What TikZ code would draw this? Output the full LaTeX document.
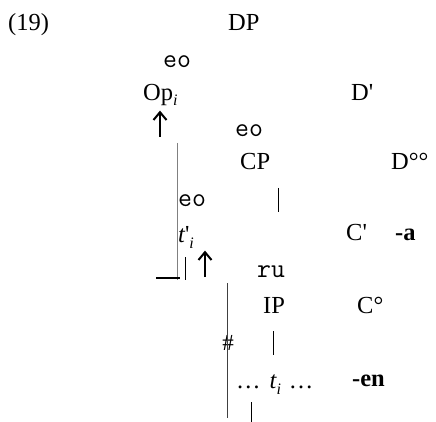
\documentclass[tikz,border=0pt]{standalone}
\usepackage{fontspec}
\usetikzlibrary{calc}
\setmainfont{Liberation Serif}
\newfontfamily\nolig{Liberation Serif}[Ligatures=TeXOff]
\newcommand{\sq}{{\nolig\char"0027\relax}}
\begin{document}
\begin{tikzpicture}[x=1pt,y=-1pt]
\tikzset{
  lbl/.style={inner sep=0pt,anchor=base west,font=\fontsize{24.5}{28}\selectfont},
  bld/.style={lbl,font=\fontsize{24.5}{28}\selectfont\bfseries},
  brk/.style={inner sep=0pt,anchor=base west,font=\ttfamily\fontsize{27}{30}\selectfont},
  uparr/.style={line width=2pt,line cap=butt},
  thin/.style={line width=1pt},
  grayline/.style={line width=1pt,draw=black!50},
}
\useasboundingbox (0,0) rectangle (436,422);
\fill[white] (0,0) rectangle (436,422);
% labels
\node[lbl] (ex) at (8,31) {(19)};
\node[lbl] (dp) at (228,31) {DP};
\node[brk] (eo1) at (163,68) {eo};
\node[lbl] (op) at (143,101) {Op\raisebox{-0.2em}{\fontsize{16}{18}\selectfont\itshape i}};
\node[lbl] (dbar) at (351,101) {D\sq};
\node[brk] (eo2) at (235,137) {eo};
\node[lbl] (cp) at (240,170) {CP};
\node[lbl] (dzero) at (391,170) {D°°};
\node[brk] (eo3) at (178,207) {eo};
\node[lbl] (tp) at (178,242) {\itshape t\upshape\sq\raisebox{-0.25em}{\fontsize{16}{18}\selectfont\itshape i}};
\node[lbl] (cbar) at (346,240) {C\sq};
\node[bld] (sufa) at (395,240) {-a};
\node[brk] (ru) at (257,277) {ru};
\node[lbl] (ip) at (263,313) {IP};
\node[lbl] (czero) at (357,313) {C°};
\node[inner sep=0pt,font=\fontsize{23}{26}\selectfont] (hash) at (228,343) {\#};
\node[lbl] (ti) at (236,388) {…\hspace{9pt}{\itshape t}\raisebox{-0.25em}{\fontsize{16}{18}\selectfont\itshape i}\hspace{8pt}…};
\node[bld] (sufen) at (352,386) {-en};
% arrows (drawn glyph-like)
\coordinate (a1b) at (160,137); \coordinate (a1t) at (160,113);
\draw[uparr] (a1b) -- (a1t);
\draw[uparr,line join=miter] ($(a1t)+(-6.5,7)$) -- ($(a1t)+(0,-0.8)$) -- ($(a1t)+(6.5,7)$);
\coordinate (a2b) at (205,277); \coordinate (a2t) at (205,253);
\draw[uparr] (a2b) -- (a2t);
\draw[uparr,line join=miter] ($(a2t)+(-6.5,7)$) -- ($(a2t)+(0,-0.8)$) -- ($(a2t)+(6.5,7)$);
% lines
\coordinate (g1) at (177,143); \coordinate (g2) at (177,280);
\draw[grayline] (g1) -- (g2);
\coordinate (h1) at (156,278); \coordinate (h2) at (180,278);
\draw[line width=2pt] (h1) -- (h2);
\coordinate (v1) at (185,257); \coordinate (v2) at (185,280);
\draw[thin] (v1) -- (v2);
\coordinate (m1) at (227,283); \coordinate (m2) at (227,418);
\draw[thin,draw=black!75] (m1) -- (m2);
\coordinate (c1) at (278,188); \coordinate (c2) at (278,212);
\draw[thin] (c1) -- (c2);
\coordinate (i1) at (273,331); \coordinate (i2) at (273,355);
\draw[thin] (i1) -- (i2);
\coordinate (b1) at (251,402); \coordinate (b2) at (251,422);
\draw[thin] (b1) -- (b2);
\end{tikzpicture}
\end{document}
